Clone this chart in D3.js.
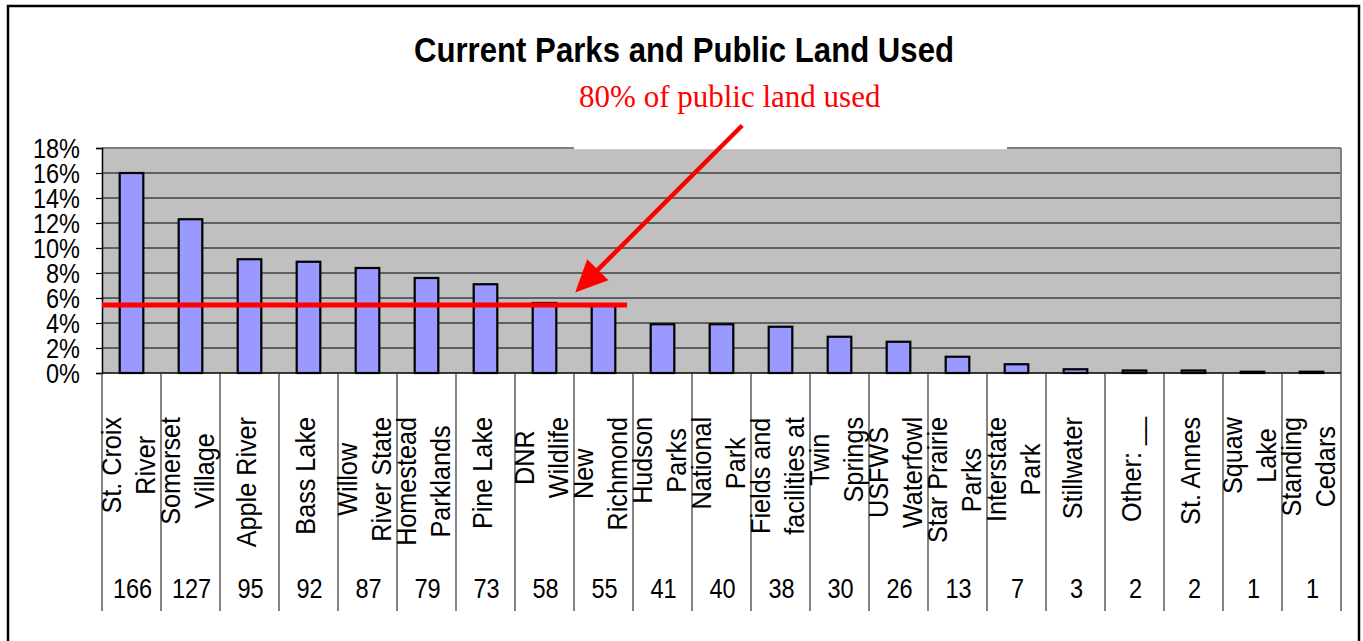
<!DOCTYPE html>
<html>
<head>
<meta charset="utf-8">
<script src="https://cdn.jsdelivr.net/npm/d3@7"></script>
<style>
    body { margin: 0; background: #fff; }
    svg { display: block; }
    text { font-family: "Liberation Sans", Arial, sans-serif; }
</style>
</head>
<body>
<svg id="chart" width="1363" height="641"></svg>
<script>
// Chart data
const categories = [
    'St. Croix\nRiver', 'Somerset\nVillage', 'Apple River', 'Bass Lake', 'Willow\nRiver State',
    'Homestead\nParklands', 'Pine Lake', 'DNR\nWildlife', 'New\nRichmond', 'Hudson\nParks',
    'National\nPark', 'Fields and\nfacilities at', 'Twin\nSprings', 'USFWS\nWaterfowl',
    'Star Prairie\nParks', 'Interstate\nPark', 'Stillwater', 'Other: __', 'St. Annes',
    'Squaw\nLake', 'Standing\nCedars'
];
const shares = [16.0, 12.3, 9.1, 8.9, 8.4, 7.6, 7.1, 5.6, 5.4, 3.9, 3.9, 3.7, 2.9, 2.5, 1.3, 0.7, 0.3, 0.2, 0.2, 0.1, 0.1];
const counts = [166, 127, 95, 92, 87, 79, 73, 58, 55, 41, 40, 38, 30, 26, 13, 7, 3, 2, 2, 1, 1];
const yTicks = [0, 2, 4, 6, 8, 10, 12, 14, 16, 18];
const threshold = 5.45;
const titleText = 'Current Parks and Public Land Used';
const noteText = '80% of public land used';

const svg = d3.select('#chart');
const plot = { left: 102, right: 1341, top: 148, bottom: 373 };
const n = categories.length;

const x = d3.scaleBand()
    .domain(d3.range(n))
    .range([plot.left, plot.right]);
// continuous position along the category axis (0 = first band start)
const xAt = d3.scaleLinear().domain([0, n]).range([plot.left, plot.right]);
const y = d3.scaleLinear().domain([0, 18]).range([plot.bottom, plot.top]);

// squeeze text horizontally so it looks like the narrow original
function condense(sel, k) {
    sel.each(function () {
        const len = this.getComputedTextLength();
        this.__len = len * k;
        d3.select(this).attr('textLength', len * k).attr('lengthAdjust', 'spacingAndGlyphs');
    });
}

// outer frame
svg.append('rect')
    .attr('x', 8).attr('y', 6)
    .attr('width', 1351).attr('height', 650)
    .attr('fill', 'none').attr('stroke', '#000').attr('stroke-width', 2.5);

// plot area
svg.append('rect')
    .attr('x', plot.left).attr('y', plot.top)
    .attr('width', plot.right - plot.left).attr('height', plot.bottom - plot.top)
    .attr('fill', '#C0C0C0');

// gridlines
svg.append('g')
    .selectAll('line')
    .data(yTicks.filter(d => d > 0 && d < 18))
    .enter().append('line')
    .attr('x1', plot.left).attr('x2', plot.right)
    .attr('y1', d => y(d)).attr('y2', d => y(d))
    .attr('stroke', '#000').attr('stroke-width', 1.2);

svg.append('line')
    .attr('x1', plot.left).attr('x2', plot.right)
    .attr('y1', y(18)).attr('y2', y(18))
    .attr('stroke', '#808080').attr('stroke-width', 2);

svg.append('line')
    .attr('x1', plot.right).attr('x2', plot.right)
    .attr('y1', plot.top).attr('y2', plot.bottom)
    .attr('stroke', '#808080').attr('stroke-width', 2);

// white box of the annotation, it hides part of the top border
svg.append('rect')
    .attr('x', xAt(8)).attr('y', 70)
    .attr('width', xAt(15.34) - xAt(8)).attr('height', y(18) + 1.2 - 70)
    .attr('fill', '#fff');

// bars
const barW = x.bandwidth() * 0.4;
svg.append('g')
    .selectAll('rect')
    .data(shares)
    .enter().append('rect')
    .attr('x', (d, i) => x(i) + (x.bandwidth() - barW) / 2)
    .attr('width', barW)
    .attr('y', d => y(d))
    .attr('height', d => y(0) - y(d))
    .attr('fill', '#9999FF')
    .attr('stroke', '#000')
    .attr('stroke-width', 2.2);

// y axis
const yAxis = d3.axisLeft(y)
    .tickValues(yTicks)
    .tickSize(6)
    .tickPadding(16)
    .tickFormat(d => d + '%');

const yg = svg.append('g')
    .attr('transform', `translate(${plot.left},0)`)
    .call(yAxis);
yg.select('.domain').attr('stroke', '#000').attr('stroke-width', 1.5);
yg.selectAll('.tick line').attr('stroke', '#000').attr('stroke-width', 1.2);
yg.selectAll('.tick text')
    .attr('font-family', '"Liberation Sans", Arial, sans-serif')
    .attr('font-size', 27)
    .attr('fill', '#000')
    .attr('dy', '0.36em')
    .call(condense, 0.87);

// data table under the chart
const tableBottom = 611;
svg.append('line')
    .attr('x1', plot.left).attr('x2', plot.right)
    .attr('y1', plot.bottom).attr('y2', plot.bottom)
    .attr('stroke', '#000').attr('stroke-width', 1.5);

svg.append('g')
    .selectAll('line')
    .data(d3.range(n + 1))
    .enter().append('line')
    .attr('x1', d => xAt(d)).attr('x2', d => xAt(d))
    .attr('y1', plot.bottom).attr('y2', tableBottom)
    .attr('stroke', '#333').attr('stroke-width', 1.2);

// rotated category labels
const labelTop = 417;
const lineGap = 34;
categories.forEach((name, i) => {
    const lines = name.split('\n');
    const cx = x(i) + x.bandwidth() / 2 - 3;
    const g = svg.append('g');
    const texts = g.selectAll('text')
        .data(lines)
        .enter().append('text')
        .attr('font-size', 28)
        .attr('text-anchor', 'middle')
        .attr('dominant-baseline', 'central')
        .style('fill', '#000')
        .text(d => d)
        .call(condense, 0.9);
    const maxLen = d3.max(texts.nodes(), t => t.__len);
    const cy = labelTop + maxLen / 2;
    texts.attr('transform', (d, j) =>
        `translate(${cx + (j - (lines.length - 1) / 2) * lineGap},${cy}) rotate(-90)`);
});

// counts row
svg.append('g')
    .selectAll('text')
    .data(counts)
    .enter().append('text')
    .attr('x', (d, i) => x(i) + x.bandwidth() / 2 + 1)
    .attr('y', 598)
    .attr('font-size', 28)
    .attr('text-anchor', 'middle')
    .style('fill', '#000')
    .text(d => d)
    .call(condense, 0.84);

// title
svg.append('text')
    .attr('x', 684).attr('y', 62)
    .attr('text-anchor', 'middle')
    .attr('font-size', 35)
    .attr('font-weight', 'bold')
    .style('fill', '#000')
    .text(titleText)
    .call(condense, 0.89);

// 80% threshold line
svg.append('line')
    .attr('x1', plot.left).attr('x2', xAt(8.9))
    .attr('y1', y(threshold)).attr('y2', y(threshold))
    .attr('stroke', '#FF0000').attr('stroke-width', 5);

// annotation text + arrow
svg.append('text')
    .attr('x', xAt(10.64)).attr('y', y(21.25))
    .attr('text-anchor', 'middle')
    .style('font-family', '"Liberation Serif", "Times New Roman", serif')
    .attr('font-size', 31)
    .style('fill', '#FF0000')
    .text(noteText);

const from = [xAt(10.85), y(19.8)];
const tip = [xAt(8.02), y(6.45)];
const dx = from[0] - tip[0], dy = from[1] - tip[1];
const len = Math.hypot(dx, dy);
const ux = dx / len, uy = dy / len;
const headLen = 32, headHalf = 15;
const base = [tip[0] + ux * headLen, tip[1] + uy * headLen];

svg.append('line')
    .attr('x1', from[0]).attr('y1', from[1])
    .attr('x2', base[0] - ux * 2).attr('y2', base[1] - uy * 2)
    .attr('stroke', '#FF0000').attr('stroke-width', 4.5);

svg.append('path')
    .attr('d', `M${tip[0]},${tip[1]}` +
        `L${base[0] - uy * headHalf},${base[1] + ux * headHalf}` +
        `L${base[0] + uy * headHalf},${base[1] - ux * headHalf}Z`)
    .attr('fill', '#FF0000');
</script>
</body>
</html>
